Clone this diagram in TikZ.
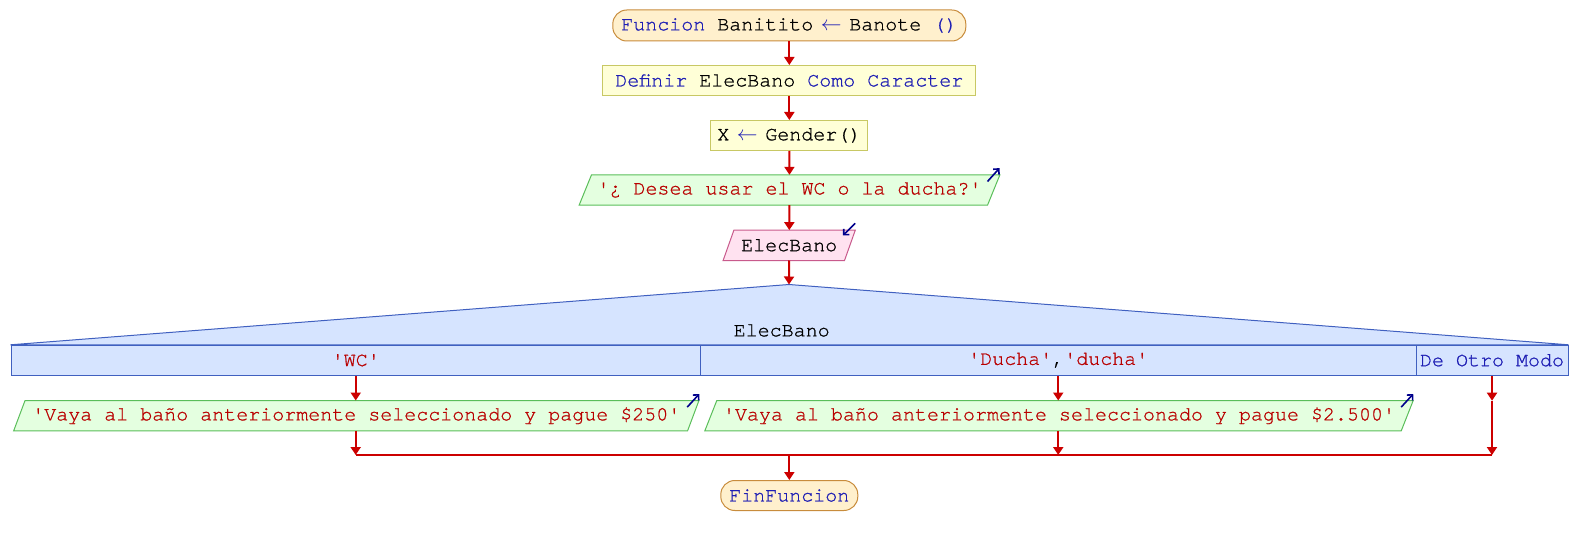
\documentclass[tikz,border=0pt]{standalone}
\usepackage{fontspec}
\setmainfont{texgyrecursor-regular.otf}[FakeBold=0.9]
\usetikzlibrary{arrows.meta,backgrounds}
\definecolor{kw}{RGB}{30,30,180}
\definecolor{str}{RGB}{185,0,0}
\definecolor{flowred}{RGB}{204,0,0}
\definecolor{termfill}{RGB}{255,240,205}
\definecolor{termdraw}{RGB}{200,140,60}
\definecolor{procfill}{RGB}{255,255,215}
\definecolor{procdraw}{RGB}{200,200,100}
\definecolor{outfill}{RGB}{228,255,224}
\definecolor{outdraw}{RGB}{90,190,90}
\definecolor{infill}{RGB}{255,226,240}
\definecolor{indraw}{RGB}{200,90,140}
\definecolor{swfill}{RGB}{214,228,255}
\definecolor{swdraw}{RGB}{64,96,192}
\definecolor{mk}{RGB}{0,0,140}
\newcommand\sq{\textquotesingle}
\newcommand\larr{\makebox[12pt]{\textcolor{kw}{$\leftarrow$}}}
\begin{document}
\begin{tikzpicture}[x=1pt,y=-1pt,
  every node/.style={font=\fontsize{20}{24}\selectfont, inner sep=0pt},
  term/.style={draw=termdraw, fill=termfill, line width=1pt, rounded corners=14pt, minimum height=31pt},
  proc/.style={draw=procdraw, fill=procfill, line width=1pt, minimum height=30pt},
  ptext/.style={minimum height=30pt},
  outp/.style={draw=outdraw, fill=outfill, line width=1pt},
  inp/.style={draw=indraw, fill=infill, line width=1pt},
  swshape/.style={draw=swdraw, fill=swfill, line width=1pt},
  casebox/.style={draw=swdraw, fill=swfill, line width=1pt, minimum height=30pt},
  flow/.style={draw=flowred, line width=2pt, -{Triangle[length=8pt,width=10pt]}},
  mergeline/.style={draw=flowred, line width=2.5pt},
  iomark/.style={draw=mk, line width=1.6pt, -{Straight Barb[length=4pt,width=8pt]}},
]
\useasboundingbox (0,0) rectangle (1578,545);

% nodes
\node[term, minimum width=353pt] (start) at (789.3,25.5)
  {\textcolor{kw}{Funcion} Banitito \larr{} Banote \textcolor{kw}{()}};
\node[proc, minimum width=373pt] (def) at (789.3,80.5)
  {\textcolor{kw}{Definir} ElecBano \textcolor{kw}{Como Caracter}};
\node[proc, minimum width=157pt] (asg) at (789.3,135.5)
  {X \larr{} Gender()};
\node[ptext, minimum width=408pt] (out1) at (789.5,190)
  {\textcolor{str}{\sq¿ Desea usar el WC o la ducha?\sq}};
\node[ptext, minimum width=121pt] (in1) at (789.2,245.3) {ElecBano};
\coordinate (apex) at (789,284.5);
\node (swlabel) at (781.7,330.5) {ElecBano};
\node[casebox, minimum width=689.5pt] (caseA) at (355.75,360.3) {\textcolor{str}{\sq WC\sq}};
\node[casebox, minimum width=715.5pt] (caseB) at (1058.25,360.3)
  {\textcolor{str}{\sq Ducha\sq},\textcolor{str}{\sq ducha\sq}};
\node[casebox, minimum width=152pt] (caseC) at (1492,360.3) {\textcolor{kw}{De Otro Modo}};
\node[ptext, minimum width=673.5pt] (out2) at (356.3,415.7)
  {\textcolor{str}{\sq Vaya al baño anteriormente seleccionado y pague \$250\sq}};
\node[ptext, minimum width=696pt] (out3) at (1059,415.7)
  {\textcolor{str}{\sq Vaya al baño anteriormente seleccionado y pague \$2.500\sq}};
\node[term, minimum width=137pt, minimum height=30pt] (fin) at (789.3,495.5)
  {\textcolor{kw}{FinFuncion}};

% background shapes
\begin{scope}[on background layer]
  \draw[outp] ([xshift=-6.2pt]out1.south west) -- ([xshift=6.2pt]out1.north west)
    -- ([xshift=6.2pt]out1.north east) -- ([xshift=-6.2pt]out1.south east) -- cycle;
  \draw[inp] ([xshift=-5.4pt]in1.south west) -- ([xshift=5.4pt]in1.north west)
    -- ([xshift=5.4pt]in1.north east) -- ([xshift=-5.4pt]in1.south east) -- cycle;
  \draw[swshape] (caseA.north west) -- (apex) -- (caseC.north east) -- cycle;
  \draw[outp] ([xshift=-5.7pt]out2.south west) -- ([xshift=5.7pt]out2.north west)
    -- ([xshift=5.7pt]out2.north east) -- ([xshift=-5.7pt]out2.south east) -- cycle;
  \draw[outp] ([xshift=-6pt]out3.south west) -- ([xshift=6pt]out3.north west)
    -- ([xshift=6pt]out3.north east) -- ([xshift=-6pt]out3.south east) -- cycle;
\end{scope}

% io markers
\draw[iomark] ([shift={(-6.2,6.7)}]out1.north east) -- ([shift={(5.8,-6.7)}]out1.north east);
\draw[iomark] ([shift={(5.3,-6.7)}]in1.north east) -- ([shift={(-7,5.3)}]in1.north east);
\draw[iomark] ([shift={(-6,6.6)}]out2.north east) -- ([shift={(6,-6.5)}]out2.north east);
\draw[iomark] ([shift={(-6,6.6)}]out3.north east) -- ([shift={(6,-6.5)}]out3.north east);

% connectors
\coordinate (jA) at (355.7,455);
\coordinate (jB) at (1058.2,455);
\coordinate (jC) at (1492,455);
\coordinate (jM) at (789.3,455);
\coordinate (cC1) at (1492,400.7);

\draw[flow] (start) -- (def);
\draw[flow] (def) -- (asg);
\draw[flow] (asg) -- (out1);
\draw[flow] (out1) -- (in1);
\draw[flow] (in1) -- (apex);
\draw[flow] (caseA.south) -- (caseA.south |- out2.north);
\draw[flow] (caseB.south) -- (caseB.south |- out3.north);
\draw[flow] (caseC.south) -- (cC1);
\draw[mergeline] (jA) -- (jC);
\draw[flow] (out2.south -| jA) -- (jA);
\draw[flow] (out3.south -| jB) -- (jB);
\draw[flow] (cC1) -- (jC);
\draw[flow] (jM) -- (fin);
\end{tikzpicture}
\end{document}
